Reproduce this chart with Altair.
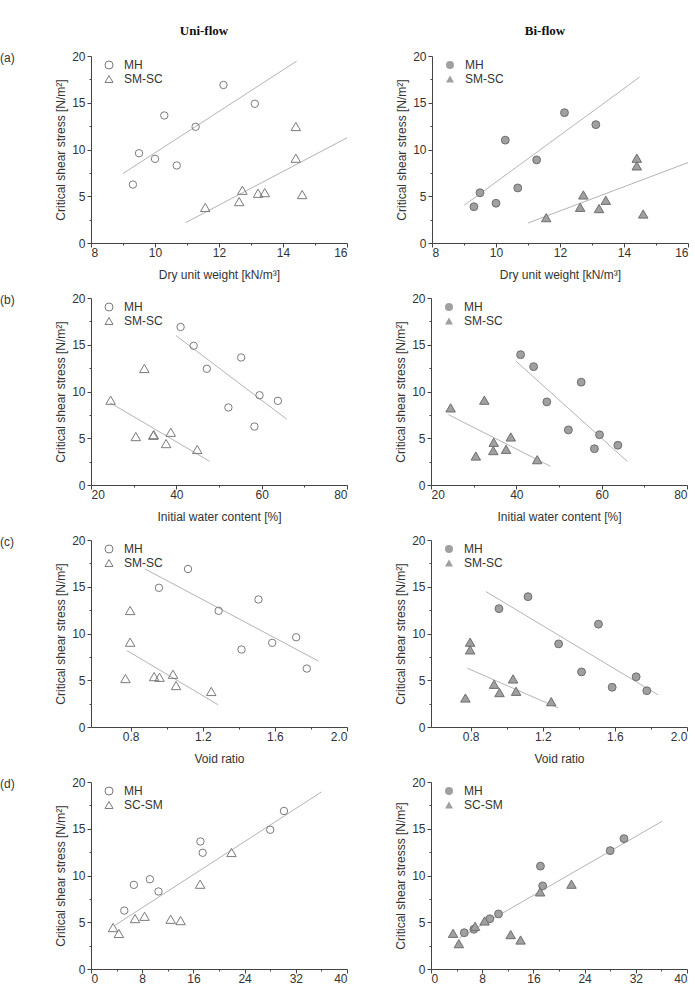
import altair as alt
import pandas as pd

# ---------------- data ----------------
# MH specimens
MH_DRY = [9.31, 9.50, 10.00, 10.29, 10.68, 11.27, 12.14, 13.12]
MH_WATER = [58.3, 59.5, 63.8, 55.2, 52.2, 47.15, 41.0, 44.05]
MH_VOID = [1.777, 1.718, 1.585, 1.509, 1.415, 1.288, 1.118, 0.957]
MH_DX = [5.2, 9.2, 6.7, 17.1, 10.55, 17.45, 30.15, 28.0]
MH_TAU_UNI = [6.25, 9.6, 9.0, 13.64, 8.29, 12.43, 16.9, 14.89]
MH_TAU_BI = [3.88, 5.37, 4.25, 11.0, 5.89, 8.89, 13.94, 12.66]

# SM-SC specimens
SM_DRY = [11.57, 12.63, 12.73, 13.22, 13.43, 14.40, 14.40, 14.60]
SM_WATER = [44.9, 37.6, 38.7, 34.6, 34.7, 32.5, 24.6, 30.5]
SM_VOID = [1.247, 1.052, 1.035, 0.960, 0.930, 0.797, 0.797, 0.771]
SM_DX = [4.35, 3.45, 8.37, 12.45, 6.88, 21.95, 17.05, 14.0]
SM_TAU_UNI = [3.8, 4.43, 5.64, 5.32, 5.39, 12.46, 9.07, 5.18]
SM_TAU_BI = [2.71, 3.82, 5.14, 3.68, 4.57, 9.07, 8.25, 3.1]

# Trend lines (end points)
TREND_A_UNI = {"MH": ([9.0, 14.43], [7.43, 19.46]), "SM": ([10.96, 16.0], [2.18, 11.25])}
TREND_A_BI = {"MH": ([9.01, 14.49], [4.04, 17.75]), "SM": ([11.0, 16.0], [2.14, 8.6])}
TREND_B_UNI = {"MH": ([39.9, 65.9], [15.99, 7.03]), "SM": ([24.5, 47.8], [8.79, 2.53])}
TREND_B_BI = {"MH": ([39.9, 66.0], [13.25, 2.53]), "SM": ([24.1, 48.0], [7.52, 2.0])}
TREND_C_UNI = {"MH": ([0.879, 1.842], [16.91, 7.05]), "SM": ([0.779, 1.284], [8.18, 2.39])}
TREND_C_BI = {"MH": ([0.884, 1.839], [14.49, 3.44]), "SM": ([0.782, 1.286], [6.28, 2.04])}
TREND_D_UNI = {"ALL": ([3.76, 36.0], [4.68, 18.93])}
TREND_D_BI = {"ALL": ([4.43, 36.08], [3.32, 15.79])}

LABELS_ABC = ["MH", "SM-SC"]
LABELS_D = ["MH", "SC-SM"]
YTITLE = "Critical shear stress [N/m²]"
YTITLE_D_BI = "Critical shear stresss [N/m²]"

# ---------------- styling ----------------
W, H = 256, 187
FONT = "Liberation Sans"
TXT = "#333333"
UNI_STROKE = "#7a7a7a"
BI_FILL = "#a0a0a0"
BI_STROKE = "#6e6e6e"
TREND = "#b4b4b4"

Y_VALUES = [0, 2.5, 5, 7.5, 10, 12.5, 15, 17.5, 20]
Y_TEST = "datum.value % 5 === 0"


def make_panel(xm, xs, ym, ys, labels, trends, xdom, xvals, xtest, xfmt,
               xtitle, ytitle, bi, plabel=None, ctitle=None):
    df = pd.DataFrame({
        "x": list(xm) + list(xs),
        "y": list(ym) + list(ys),
        "soil": [labels[0]] * len(xm) + [labels[1]] * len(xs),
    })
    rows = []
    for g, (tx, ty) in trends.items():
        for a, b in zip(tx, ty):
            rows.append({"x": a, "y": b, "g": g})
    tdf = pd.DataFrame(rows)

    xaxis_kw = dict(
        values=xvals,
        labelExpr=f"({xtest}) ? datum.label : ''",
        tickSize={"condition": {"test": xtest, "value": 4}, "value": 2},
        labelPadding=0,
        titlePadding=11,
    )
    if xfmt:
        xaxis_kw["format"] = xfmt
    xenc = alt.X("x:Q", scale=alt.Scale(domain=xdom, nice=False, zero=False),
                 axis=alt.Axis(**xaxis_kw), title=xtitle)
    yenc = alt.Y("y:Q", scale=alt.Scale(domain=[0, 20], nice=False),
                 axis=alt.Axis(values=Y_VALUES,
                               labelExpr=f"({Y_TEST}) ? datum.label : ''",
                               tickSize={"condition": {"test": Y_TEST, "value": 4}, "value": 2},
                               labelPadding=2, titlePadding=4),
                 title=ytitle)

    lines = alt.Chart(tdf).mark_line(color=TREND, strokeWidth=1).encode(
        x=xenc, y=yenc, detail="g:N")

    legend = alt.Legend(orient="none", legendX=12, legendY=3, title=None,
                        labelFont=FONT, labelFontSize=12, labelColor=TXT,
                        symbolSize=64, labelOffset=9, rowPadding=2,
                        symbolStrokeWidth=1,
                        symbolStrokeColor=BI_STROKE if bi else UNI_STROKE,
                        symbolFillColor=BI_FILL if bi else "transparent")
    shape = alt.Shape("soil:N", scale=alt.Scale(domain=labels, range=["circle", "triangle-up"]),
                      legend=legend)

    def pts(label, size):
        base = alt.Chart(df).transform_filter(alt.datum.soil == label)
        if bi:
            m = base.mark_point(filled=True, fill=BI_FILL, stroke=BI_STROKE,
                                strokeWidth=1, opacity=1, size=size)
        else:
            m = base.mark_point(filled=False, stroke=UNI_STROKE, color=UNI_STROKE,
                                strokeWidth=1, opacity=1, size=size)
        return m.encode(x=xenc, y=yenc, shape=shape)

    layers = [lines, pts(labels[0], 62 if bi else 55), pts(labels[1], 90)]
    if plabel:
        layers.append(alt.Chart(pd.DataFrame({"t": [plabel]})).mark_text(
            align="left", baseline="middle", font=FONT, fontSize=12, color=TXT
        ).encode(x=alt.value(-91), y=alt.value(2), text="t:N"))
    if ctitle:
        layers.append(alt.Chart(pd.DataFrame({"t": [ctitle]})).mark_text(
            align="center", baseline="middle", font="Liberation Serif", fontSize=13,
            fontWeight="bold", color="#111111"
        ).encode(x=alt.value(113), y=alt.value(-25), text="t:N"))
    return alt.layer(*layers).properties(width=W, height=H)


A_X = [8, 9, 10, 11, 12, 13, 14, 15, 16]
A_T = "datum.value % 2 === 0"
B_X = [20, 30, 40, 50, 60, 70, 80]
B_T = "datum.value % 20 === 0"
C_X = [0.8, 1.0, 1.2, 1.4, 1.6, 1.8, 2.0]
C_T = "round(datum.value * 10) % 4 === 0"
D_X = [0, 4, 8, 12, 16, 20, 24, 28, 32, 36, 40]
D_T = "datum.value % 8 === 0"

panels = [
    (make_panel(MH_DRY, SM_DRY, MH_TAU_UNI, SM_TAU_UNI, LABELS_ABC, TREND_A_UNI, [8, 16], A_X, A_T, None,
                "Dry unit weight [kN/m³]", YTITLE, False, "(a)", "Uni-flow"),
     make_panel(MH_DRY, SM_DRY, MH_TAU_BI, SM_TAU_BI, LABELS_ABC, TREND_A_BI, [8, 16], A_X, A_T, None,
                "Dry unit weight [kN/m³]", YTITLE, True, None, "Bi-flow")),
    (make_panel(MH_WATER, SM_WATER, MH_TAU_UNI, SM_TAU_UNI, LABELS_ABC, TREND_B_UNI, [20, 80], B_X, B_T, None,
                "Initial water content [%]", YTITLE, False, "(b)"),
     make_panel(MH_WATER, SM_WATER, MH_TAU_BI, SM_TAU_BI, LABELS_ABC, TREND_B_BI, [20, 80], B_X, B_T, None,
                "Initial water content [%]", YTITLE, True)),
    (make_panel(MH_VOID, SM_VOID, MH_TAU_UNI, SM_TAU_UNI, LABELS_ABC, TREND_C_UNI, [0.58, 2.0], C_X, C_T, ".1f",
                "Void ratio", YTITLE, False, "(c)"),
     make_panel(MH_VOID, SM_VOID, MH_TAU_BI, SM_TAU_BI, LABELS_ABC, TREND_C_BI, [0.58, 2.0], C_X, C_T, ".1f",
                "Void ratio", YTITLE, True)),
    (make_panel(MH_DX, SM_DX, MH_TAU_UNI, SM_TAU_UNI, LABELS_D, TREND_D_UNI, [0, 40], D_X, D_T, None,
                None, YTITLE, False, "(d)"),
     make_panel(MH_DX, SM_DX, MH_TAU_BI, SM_TAU_BI, LABELS_D, TREND_D_BI, [0, 40], D_X, D_T, None,
                None, YTITLE_D_BI, True)),
]

rows = []
for left, right in panels:
    rows.append(alt.hconcat(left, right, spacing=46).resolve_scale(
        x="independent", y="independent", shape="independent"
    ).resolve_legend(shape="independent"))

chart = alt.vconcat(*rows, spacing=12).resolve_scale(
    x="independent", y="independent", shape="independent"
).resolve_legend(shape="independent").properties(
    padding={"left": 0, "top": 25, "right": 0, "bottom": 0},
    background="white",
).configure_view(stroke=None).configure_axis(
    domainColor="#444444", tickColor="#444444", labelFont=FONT, labelFontSize=12,
    labelColor=TXT, titleFont=FONT, titleFontSize=12, titleColor=TXT,
    titleFontWeight="normal", grid=False, domainWidth=1, tickWidth=1,
)

chart.save("out.html", embed_options={"renderer": "svg", "actions": False})
